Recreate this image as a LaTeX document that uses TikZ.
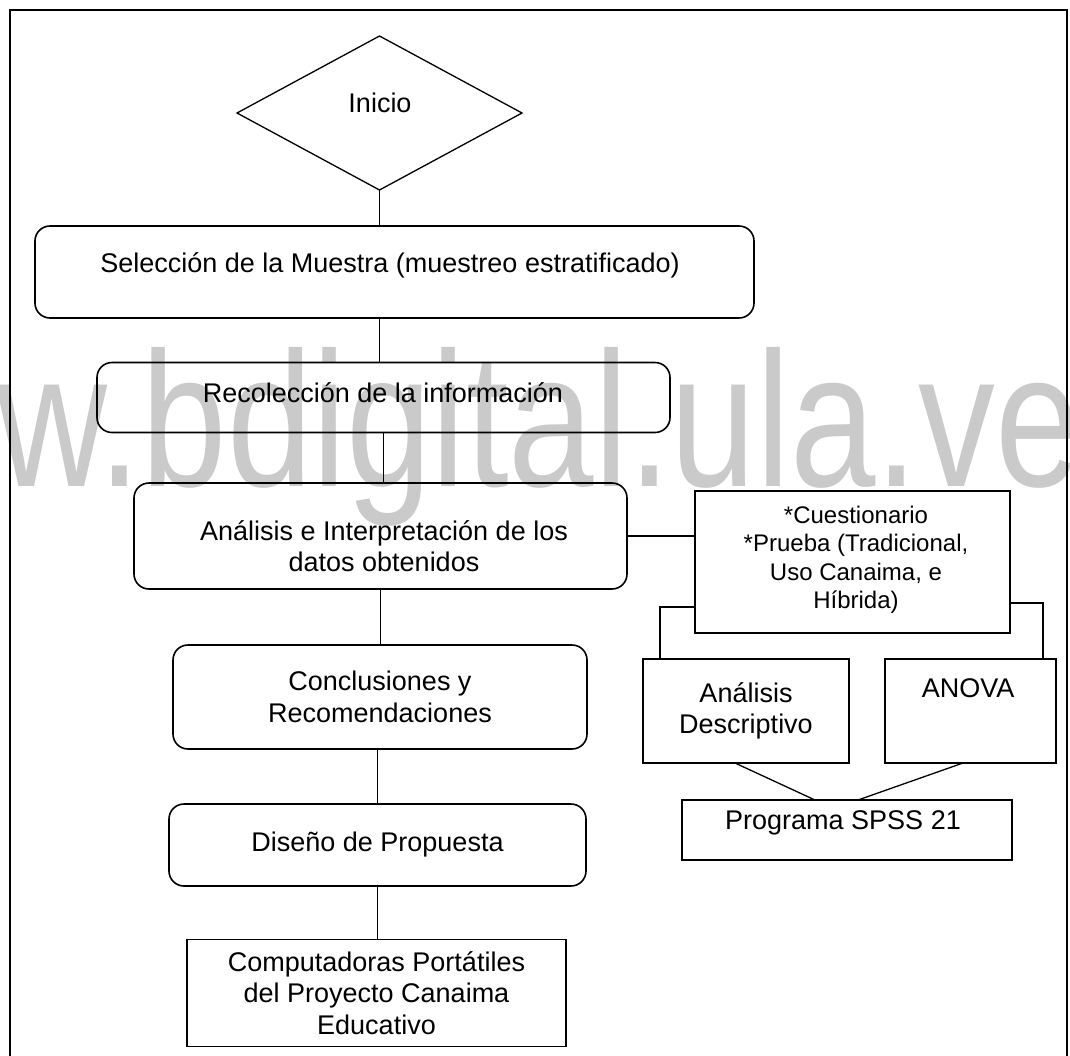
\documentclass[tikz,border=0pt]{standalone}
\usepackage{fontspec}
\setmainfont{Liberation Sans}
\usetikzlibrary{shapes.geometric}
\definecolor{wm}{RGB}{202,202,202}
\begin{document}
\begin{tikzpicture}[x=1pt,y=-1pt,
  every node/.style={inner sep=0pt, outer sep=0pt},
  txt/.style={font=\fontsize{27}{31.5}\selectfont, align=center},
  stxt/.style={font=\fontsize{24}{28.5}\selectfont, align=center},
  rbox/.style={draw, line width=1.6pt, rounded corners=15pt, rectangle, txt},
  sbox/.style={draw, line width=1.6pt, rectangle, txt},
  conn/.style={line width=1.3pt},
  frameline/.style={line width=1.6pt}]
\useasboundingbox (0,0) rectangle (1070,1055);
% watermark
\begin{scope}
\clip (0,0) rectangle (1070,1055);
\node[anchor=base east, text=wm, font=\fontsize{192}{192}\selectfont] (wmark) at (1081,486) {\scalebox{0.8}[1]{www.bdigital.ula.ve}};
\end{scope}
% frame
\draw[frameline] (10,1058) -- (10,10) -- (1067,10) -- (1067,1058);
% left column
\node[draw, diamond, line width=1.3pt, minimum width=285pt, minimum height=154pt] (d) at (379.5,113) {};
\node[txt] (tini) at (380,103) {Inicio};
\node[rbox, minimum width=719pt, minimum height=92pt] (b1) at (394.5,272) {};
\node[txt] (t1) at (390,265) {Selección de la Muestra (muestreo estratificado)};
\node[rbox, minimum width=573pt, minimum height=70pt] (b2) at (383.5,397.5) {};
\node[txt] (t2) at (383,393) {Recolección de la información};
\node[rbox, minimum width=493pt, minimum height=106pt] (b3) at (380.5,536) {};
\node[txt] (t3) at (384,546) {Análisis e Interpretación de los\\datos obtenidos};
\node[rbox, minimum width=414pt, minimum height=104pt] (b5) at (380,697) {Conclusiones y\\Recomendaciones};
\node[rbox, minimum width=417pt, minimum height=82pt] (b6) at (377.5,845) {Diseño de Propuesta};
\node[sbox, minimum width=379pt, minimum height=107pt] (b7) at (376.5,993) {Computadoras Portátiles\\del Proyecto Canaima\\Educativo};
% right column
\node[sbox, minimum width=315pt, minimum height=142pt] (b4) at (852.5,562) {};
\node[stxt] (t4) at (856,560) {*Cuestionario\\*Prueba (Tradicional,\\Uso Canaima, e\\Híbrida)};
\node[sbox, minimum width=206pt, minimum height=104pt] (A) at (746,711) {Análisis\\Descriptivo};
\node[sbox, minimum width=171pt, minimum height=104pt] (B) at (970.5,711) {};
\node[txt] (tB) at (968,688) {ANOVA};
\node[sbox, minimum width=330pt, minimum height=60pt] (C) at (847,830) {};
\node[txt] (tC) at (843,823) {Programa SPSS 21};
% connectors
\draw[conn] (d.south) -- (d.south |- b1.north);
\draw[conn] (d.south |- b1.south) -- (d.south |- b2.north);
\draw[conn] (b2.south) -- (b2.south |- b3.north);
\draw[conn] (b3.south) -- (b3.south |- b5.north);
\draw[conn] (b6.north |- b5.south) -- (b6.north);
\draw[conn] (b6.south) -- (b6.south |- b7.north);
\coordinate (c34) at (b3.east);
\draw[conn] (c34) -- (c34 -| b4.west);
\draw[conn] ([yshift=-45pt]b4.west) -| ([xshift=17pt]A.north west);
\draw[conn] ([yshift=-41pt]b4.east) -| ([xshift=-13pt]B.north east);
\draw[conn] ([xshift=92pt]A.south west) -- ([xshift=133pt]C.north west);
\draw[conn] ([xshift=78pt]B.south west) -- ([xshift=176pt]C.north west);
\end{tikzpicture}
\end{document}
